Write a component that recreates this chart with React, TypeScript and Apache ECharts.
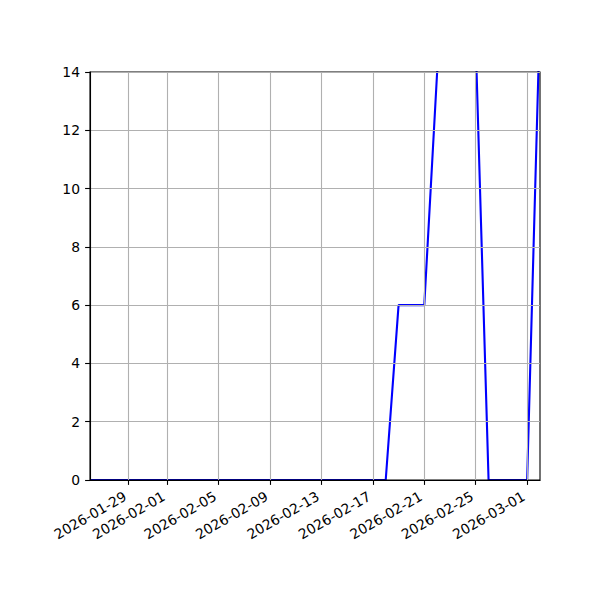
import { useEffect, useRef } from "react";
import * as echarts from "echarts";

// daily dates shown on the x axis (first and last sit on the plot edges)
const dates = [
  "2026-01-26", "2026-01-27", "2026-01-28", "2026-01-29", "2026-01-30", "2026-01-31",
  "2026-02-01", "2026-02-02", "2026-02-03", "2026-02-04", "2026-02-05", "2026-02-06",
  "2026-02-07", "2026-02-08", "2026-02-09", "2026-02-10", "2026-02-11", "2026-02-12",
  "2026-02-13", "2026-02-14", "2026-02-15", "2026-02-16", "2026-02-17", "2026-02-18",
  "2026-02-19", "2026-02-20", "2026-02-21", "2026-02-22", "2026-02-23", "2026-02-24",
  "2026-02-25", "2026-02-26", "2026-02-27", "2026-02-28", "2026-03-01", "2026-03-02",
];

// values above 14 are clipped in the picture, so they are estimates
const counts = [
  0, 0, 0, 0, 0, 0,
  0, 0, 0, 0, 0, 0,
  0, 0, 0, 0, 0, 0,
  0, 0, 0, 0, 0, 0,
  6, 6, 6, 14, 16, 16,
  15, 0, 0, 0, 0, 16,
];

// dates that get a tick, a label and a grid line
const tickDates = [
  "2026-01-29", "2026-02-01", "2026-02-05", "2026-02-09", "2026-02-13",
  "2026-02-17", "2026-02-21", "2026-02-25", "2026-03-01",
];

const yMin = 0;
const yMax = 14;
const yStep = 2;

const FONT = "DejaVu Sans";

const App = () => {
  const chartRef = useRef<HTMLDivElement>(null);

  useEffect(() => {
    if (!chartRef.current) return;
    document.body.style.margin = "0";

    const chart = echarts.init(chartRef.current, null, { renderer: "svg" });
    const isTick = (_i: number, value: string) => tickDates.includes(value);

    const option: echarts.EChartsOption = {
      animation: false,
      backgroundColor: "#ffffff",
      textStyle: { fontFamily: FONT },
      grid: {
        left: 90,
        top: 72,
        width: 450,
        height: 408,
        show: true,
        borderColor: "#000000",
        borderWidth: 1.1,
        backgroundColor: "transparent",
        z: 3,
      },
      xAxis: {
        type: "category",
        data: dates,
        boundaryGap: false,
        z: 3,
        axisLine: { lineStyle: { color: "#000000", width: 1.1 } },
        axisTick: {
          show: true,
          interval: isTick,
          length: 4.9,
          lineStyle: { color: "#000000", width: 1.1 },
        },
        axisLabel: {
          interval: isTick,
          rotate: 30,
          margin: 13,
          padding: [0, 4, 0, 0],
          color: "#000000",
          fontSize: 13.9,
          fontFamily: FONT,
        },
        splitLine: {
          show: true,
          interval: isTick,
          lineStyle: { color: "#b0b0b0", width: 1.1 },
        },
      },
      yAxis: {
        type: "value",
        min: yMin,
        max: yMax,
        interval: yStep,
        z: 3,
        axisLine: { show: true, lineStyle: { color: "#000000", width: 1.1 } },
        axisTick: {
          show: true,
          length: 4.9,
          lineStyle: { color: "#000000", width: 1.1 },
        },
        axisLabel: {
          margin: 10,
          color: "#000000",
          fontSize: 13.9,
          fontFamily: FONT,
        },
        splitLine: {
          show: true,
          lineStyle: { color: "#b0b0b0", width: 1.1 },
        },
      },
      series: [
        {
          type: "line",
          data: counts,
          showSymbol: false,
          clip: true,
          z: 2,
          lineStyle: { color: "#0000ff", width: 2.1 },
          itemStyle: { color: "#0000ff" },
        },
      ],
    };

    chart.setOption(option);

    return () => {
      chart.dispose();
    };
  }, []);

  return <div ref={chartRef} style={{ width: "600px", height: "600px" }} />;
};

export default App;
